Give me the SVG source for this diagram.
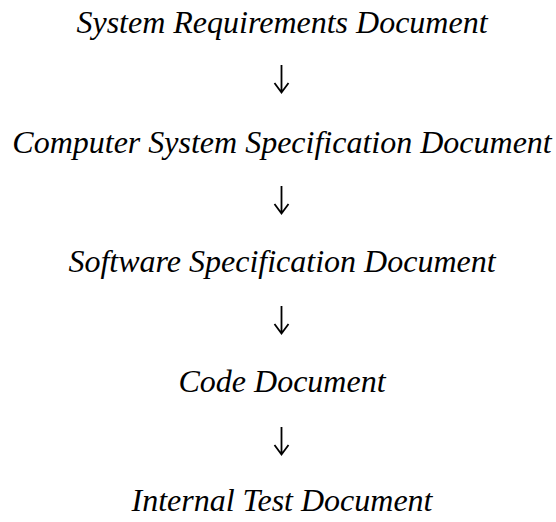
<svg xmlns="http://www.w3.org/2000/svg" width="556" height="522" viewBox="0 0 556 522">
<style>
.t{font-family:"Liberation Serif","Times New Roman",serif;font-style:italic;font-size:32px;fill:#000;text-anchor:middle}
.c{fill:none;stroke:#000;stroke-width:1.8;stroke-linecap:butt;stroke-linejoin:miter}
</style>
<defs>
<path id="arr" class="c" d="M0,-28 V-0.8 M-7,-10 L0,-0.5 L7,-10"/>
</defs>
<rect width="556" height="522" fill="#fff"/>
<g id="n1"><text class="t" x="282" y="33">System Requirements Document</text></g>
<g id="n2"><text class="t" x="282" y="153">Computer System Specification Document</text></g>
<g id="n3"><text class="t" x="282" y="272">Software Specification Document</text></g>
<g id="n4"><text class="t" x="282" y="392">Code Document</text></g>
<g id="n5"><text class="t" x="282" y="511">Internal Test Document</text></g>
<g id="connectors">
<use href="#arr" x="281.5" y="93"/>
<use href="#arr" x="281.5" y="214"/>
<use href="#arr" x="281.5" y="334"/>
<use href="#arr" x="281.5" y="455"/>
</g>
</svg>
